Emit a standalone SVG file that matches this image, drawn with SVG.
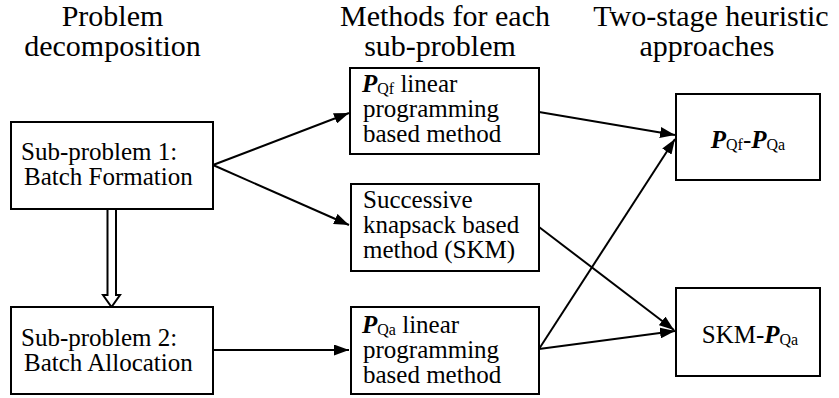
<svg xmlns="http://www.w3.org/2000/svg" width="839" height="398" viewBox="0 0 839 398">
<defs>
<style>
text{font-family:'Liberation Serif','Times New Roman',Times,serif;fill:#000}
.h{font-size:30px;text-anchor:middle}
.t{font-size:25px}
.c{text-anchor:middle}
.P{font-style:italic;font-weight:bold}
.s{font-size:16px}
rect{fill:#fff;stroke:#000;stroke-width:2}
.ln{stroke:#000;stroke-width:2;fill:none}
</style>
<marker id="ah" viewBox="0 0 15 11" refX="15" refY="5.5" markerWidth="15" markerHeight="11" markerUnits="userSpaceOnUse" orient="auto">
<path d="M0,0 L15,5.5 L0,11 Z" fill="#000"/>
</marker>
</defs>
<rect x="0" y="0" width="839" height="398" style="fill:#fff;stroke:none"/>
<g id="headers">
<text class="h" x="112.5" y="26">Problem</text>
<text class="h" x="112.5" y="56">decomposition</text>
<text class="h" x="445" y="26">Methods for each</text>
<text class="h" x="440" y="56">sub-problem</text>
<text class="h" x="711" y="26">Two-stage heuristic</text>
<text class="h" x="707" y="56">approaches</text>
</g>
<g id="connectors">
<path class="ln" d="M107.5,209 V295 H103 L111.5,307 L120,295 H116 V209"/>
<line class="ln" x1="213" y1="165" x2="349" y2="113" marker-end="url(#ah)"/>
<line class="ln" x1="213" y1="165" x2="349" y2="225" marker-end="url(#ah)"/>
<line class="ln" x1="213" y1="350" x2="349" y2="350" marker-end="url(#ah)"/>
<line class="ln" x1="539" y1="112" x2="675" y2="135" marker-end="url(#ah)"/>
<line class="ln" x1="539" y1="349" x2="675" y2="139" marker-end="url(#ah)"/>
<line class="ln" x1="539" y1="227" x2="674" y2="330" marker-end="url(#ah)"/>
<line class="ln" x1="539" y1="349" x2="675" y2="331" marker-end="url(#ah)"/>
</g>
<g id="sub1">
<rect x="11" y="122" width="202" height="87"/>
<text class="t" x="21" y="160">Sub-problem 1:</text>
<text class="t" x="24" y="185">Batch Formation</text>
</g>
<g id="sub2">
<rect x="11" y="307" width="202" height="87"/>
<text class="t" x="21" y="346">Sub-problem 2:</text>
<text class="t" x="24" y="371">Batch Allocation</text>
</g>
<g id="pqf-method">
<rect x="350" y="68" width="189" height="86"/>
<text class="t" x="362" y="92"><tspan class="P">P</tspan><tspan class="s" dy="2">Qf</tspan><tspan dy="-2"> linear</tspan></text>
<text class="t" x="363" y="117">programming</text>
<text class="t" x="363" y="142">based method</text>
</g>
<g id="skm-method">
<rect x="351" y="184" width="188" height="87"/>
<text class="t" x="363" y="208">Successive</text>
<text class="t" x="363" y="233">knapsack based</text>
<text class="t" x="363" y="258">method (SKM)</text>
</g>
<g id="pqa-method">
<rect x="351" y="307" width="188" height="87"/>
<text class="t" x="362" y="333"><tspan class="P">P</tspan><tspan class="s" dy="2">Qa</tspan><tspan dy="-2"> linear</tspan></text>
<text class="t" x="363" y="358">programming</text>
<text class="t" x="363" y="383">based method</text>
</g>
<g id="pqf-pqa">
<rect x="676" y="94" width="144" height="86"/>
<text class="t c" x="748" y="148"><tspan class="P">P</tspan><tspan class="s" dy="2">Qf</tspan><tspan dy="-2">-</tspan><tspan class="P">P</tspan><tspan class="s" dy="2">Qa</tspan></text>
</g>
<g id="skm-pqa">
<rect x="676" y="288" width="144" height="88"/>
<text class="t c" x="750" y="343">SKM-<tspan class="P">P</tspan><tspan class="s" dy="2">Qa</tspan></text>
</g>
</svg>
